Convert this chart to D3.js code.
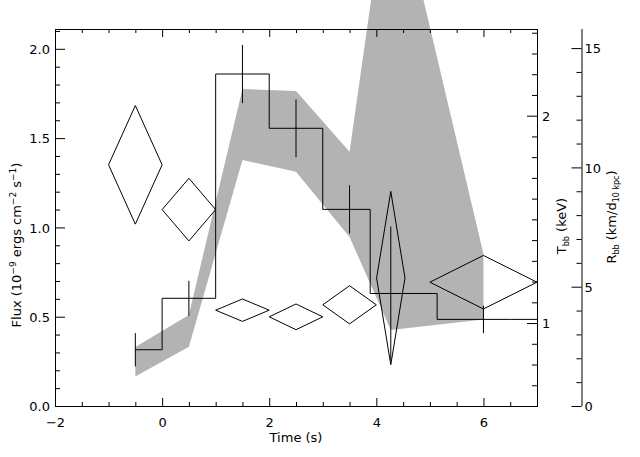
<!DOCTYPE html>
<html>
<head>
<meta charset="utf-8">
<script src="https://cdn.jsdelivr.net/npm/d3@7"></script>
<style>
  html, body { margin: 0; padding: 0; background: #fff; }
  svg { display: block; }
  text { font-family: "DejaVu Sans", sans-serif; font-size: 13px; fill: #000; }
</style>
</head>
<body>
<svg id="chart" width="640" height="457"></svg>
<script>
// ---- data ----
const times         = [-0.5, 0.5, 1.5, 2.5, 3.5, 4.27, 6];
const flux          = [0.315, 0.603, 1.859, 1.555, 1.101, 0.630, 0.485];
const fluxErr       = [0.093, 0.098, 0.163, 0.162, 0.135, 0.375, 0.077];
const bandUpper     = [0.330, 0.510, 1.775, 1.764, 1.424, 3.05, 0.851];
const bandLower     = [0.165, 0.332, 1.377, 1.312, 0.946, 0.426, 0.484];
const tempKeV       = [1.763, 1.547, 1.062, 1.030, 1.088, 1.217, 1.197];
const tempErr       = [0.286, 0.151, 0.054, 0.062, 0.092, 0.418, 0.129];
const timeHalfWidth = [0.5, 0.5, 0.5, 0.5, 0.5, 0.265, 1.0];

const xMajorTicks = [-2, 0, 2, 4, 6];
const fluxMajorTicks = [0, 0.5, 1.0, 1.5, 2.0];
const tMajorTicks = [1, 2];
const rMajorTicks = [0, 5, 10, 15];

// ---- layout ----
const L = 55, R = 537, T = 29, B = 406, RAX = 581.5;
const svg = d3.select("#chart");

const x = d3.scaleLinear().domain([-2, 7]).range([L, R]);
const yF = d3.scaleLinear().domain([0, 2.111]).range([B, T]);
const yT = d3.scaleLinear().domain([0.6, 2.418]).range([B, T]);
const yR = d3.scaleLinear().domain([0, 15.8]).range([B, T]);

const rng = (a, b, s) => d3.range(Math.round(a / s), Math.round(b / s) + 1).map(i => +(i * s).toFixed(4));

// ---- grey band (not clipped; extends above the frame) ----
const bandData = times.map((t, i) => ({ t, lo: bandLower[i], hi: bandUpper[i] }));
svg.append("path")
  .datum(bandData)
  .attr("fill", "#b3b3b3")
  .attr("stroke", "none")
  .attr("d", d3.area().x(d => x(d.t)).y0(d => yF(d.lo)).y1(d => yF(d.hi)));

// ---- step histogram ----
const stepData = times.map((t, i) => ({ t, f: flux[i] }));
stepData.push({ t: x.domain()[1], f: flux[flux.length - 1] });
svg.append("path")
  .datum(stepData)
  .attr("fill", "none")
  .attr("stroke", "#000")
  .attr("stroke-width", 1)
  .attr("d", d3.line().curve(d3.curveStep).x(d => x(d.t)).y(d => yF(d.f)));

// ---- error bars ----
svg.append("g").selectAll("line")
  .data(times.map((t, i) => ({ t, f: flux[i], e: fluxErr[i] })))
  .join("line")
  .attr("x1", d => x(d.t)).attr("x2", d => x(d.t))
  .attr("y1", d => yF(d.f - d.e)).attr("y2", d => yF(d.f + d.e))
  .attr("stroke", "#000").attr("stroke-width", 1);

// ---- diamonds (temperature) ----
svg.append("g").selectAll("path")
  .data(times.map((t, i) => ({ t, v: tempKeV[i], e: tempErr[i], w: timeHalfWidth[i] })))
  .join("path")
  .attr("fill", "none")
  .attr("stroke", "#000")
  .attr("stroke-width", 1)
  .attr("d", d => {
    const p = d3.path();
    p.moveTo(x(d.t - d.w), yT(d.v));
    p.lineTo(x(d.t), yT(d.v + d.e));
    p.lineTo(x(d.t + d.w), yT(d.v));
    p.lineTo(x(d.t), yT(d.v - d.e));
    p.closePath();
    return p.toString();
  });

// ---- axes ----
function styleAxis(g) {
  g.select(".domain").remove();
  g.selectAll("line").attr("stroke", "#000");
  g.selectAll("text").attr("fill", "#000").style("font-family", "DejaVu Sans, sans-serif").style("font-size", "13px");
}

// bottom
svg.append("g").attr("transform", `translate(0,${B})`)
  .call(d3.axisBottom(x).tickValues(rng(-2, 7, 0.5).filter(v => !xMajorTicks.includes(v))).tickSize(-4).tickFormat(""))
  .call(styleAxis);
svg.append("g").attr("transform", `translate(0,${B})`)
  .call(d3.axisBottom(x).tickValues(xMajorTicks).tickSize(-8).tickFormat(d => d < 0 ? "\u2212" + Math.abs(d) : d))
  .call(styleAxis)
  .call(g => g.selectAll("text").attr("y", 20.5).attr("dy", 0));

// top
svg.append("g").attr("transform", `translate(0,${T})`)
  .call(d3.axisTop(x).tickValues(rng(-2, 7, 0.5).filter(v => !xMajorTicks.includes(v))).tickSize(-4).tickFormat(""))
  .call(styleAxis);
svg.append("g").attr("transform", `translate(0,${T})`)
  .call(d3.axisTop(x).tickValues(xMajorTicks).tickSize(-8).tickFormat(""))
  .call(styleAxis);

// left (flux)
svg.append("g").attr("transform", `translate(${L},0)`)
  .call(d3.axisLeft(yF).tickValues(rng(0, 2.1, 0.1).filter(v => !fluxMajorTicks.includes(v))).tickSize(-5).tickFormat(""))
  .call(styleAxis);
svg.append("g").attr("transform", `translate(${L},0)`)
  .call(d3.axisLeft(yF).tickValues(fluxMajorTicks).tickSize(-10).tickPadding(5).tickFormat(d3.format(".1f")))
  .call(styleAxis)
  .call(g => g.selectAll("text").attr("dy", "0.36em"));

// right (temperature) on frame edge
svg.append("g").attr("transform", `translate(${R},0)`)
  .call(d3.axisRight(yT).tickValues(rng(0.6, 2.4, 0.1).filter(v => !tMajorTicks.includes(v))).tickSize(-5).tickFormat(""))
  .call(styleAxis);
svg.append("g").attr("transform", `translate(${R},0)`)
  .call(d3.axisRight(yT).tickValues(tMajorTicks).tickSize(-10).tickPadding(5).tickFormat(d3.format("d")))
  .call(styleAxis)
  .call(g => g.selectAll("text").attr("dy", "0.36em"));

// far right (radius)
svg.append("g").attr("transform", `translate(${RAX},0)`)
  .call(d3.axisRight(yR).tickValues(d3.range(0, 16).filter(v => !rMajorTicks.includes(v))).tickSize(-5).tickFormat(""))
  .call(styleAxis);
svg.append("g").attr("transform", `translate(${RAX},0)`)
  .call(d3.axisRight(yR).tickValues(rMajorTicks).tickSize(-10).tickPadding(3).tickFormat(d3.format("d")))
  .call(styleAxis)
  .call(g => g.selectAll("text").attr("dy", "0.36em"));
svg.append("line")
  .attr("x1", RAX + 0.5).attr("x2", RAX + 0.5).attr("y1", T).attr("y2", B)
  .attr("stroke", "#000").attr("stroke-width", 1);

// frame
svg.append("rect")
  .attr("x", L + 0.5).attr("y", T + 0.5).attr("width", R - L).attr("height", B - T)
  .attr("fill", "none").attr("stroke", "#000").attr("stroke-width", 1);

// ---- axis titles ----
svg.append("text").attr("x", (L + R) / 2).attr("y", 442).attr("text-anchor", "middle").text("Time (s)");

const fl = svg.append("text").attr("transform", "translate(21,245) rotate(-90)").attr("text-anchor", "middle");
fl.append("tspan").text("Flux (10");
fl.append("tspan").attr("font-size", "9px").attr("dy", -5).text("\u22129");
fl.append("tspan").attr("dy", 5).text(" ergs cm");
fl.append("tspan").attr("font-size", "9px").attr("dy", -5).text("\u22122");
fl.append("tspan").attr("dy", 5).text(" s");
fl.append("tspan").attr("font-size", "9px").attr("dy", -5).text("\u22121");
fl.append("tspan").attr("dy", 5).text(")");

const tl = svg.append("text").attr("transform", "translate(566,226) rotate(-90)").attr("text-anchor", "middle");
tl.append("tspan").text("T");
tl.append("tspan").attr("font-size", "8px").attr("dy", 3).text("bb");
tl.append("tspan").attr("dy", -3).text(" (keV)");

const rl = svg.append("text").attr("transform", "translate(616,217) rotate(-90)").attr("text-anchor", "middle");
rl.append("tspan").text("R");
rl.append("tspan").attr("font-size", "8px").attr("dy", 3).text("bb");
rl.append("tspan").attr("dy", -3).text(" (km/d");
rl.append("tspan").attr("font-size", "8px").attr("dy", 3).text("10 kpc");
rl.append("tspan").attr("dy", -3).text(")");
</script>
</body>
</html>
